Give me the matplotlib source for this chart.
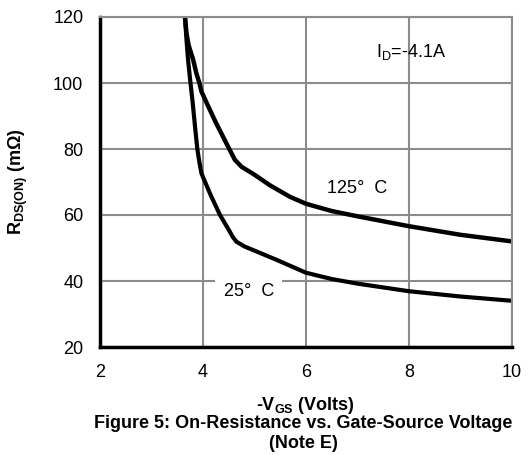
import matplotlib
matplotlib.use("Agg")
import matplotlib.pyplot as plt

plt.rcParams["font.family"] = ["Liberation Sans", "DejaVu Sans"]

# curves (-VGS in volts, RDS(on) in mOhm)
vgs_25 = [3.65, 3.68, 3.71, 3.75, 3.8, 3.85, 3.89, 3.93, 3.97, 4.15, 4.33, 4.5, 4.58, 4.65,
          4.8, 5.0, 5.43, 6.0, 6.5, 7.0, 8.0, 9.0, 10.0]
rds_25 = [120, 113, 107, 101, 94, 86, 80, 76, 72.6, 66, 60, 55.5, 53.3, 51.9,
          50.5, 49.2, 46.4, 42.5, 40.6, 39.2, 36.9, 35.3, 34]
vgs_125 = [3.65, 3.68, 3.72, 3.77, 3.81, 3.87, 3.93, 3.97, 4.1, 4.25, 4.38, 4.51, 4.62, 4.75,
           5.0, 5.3, 5.69, 6.0, 6.5, 7.0, 8.0, 9.0, 10.0]
rds_125 = [120, 115, 111.5, 109, 107, 103, 100, 97.4, 93, 88, 84, 80, 76.7, 74.6,
           72.2, 69, 65.5, 63.4, 61.2, 59.6, 56.6, 54, 52]

x_ticks = [2, 4, 6, 8, 10]
y_ticks = [20, 40, 60, 80, 100, 120]

fig = plt.figure(figsize=(5.28, 4.55), dpi=100)
ax = fig.add_axes([100 / 528, 1 - 347 / 455, 412 / 528, 330 / 455])

grid_c = "#8c8c8c"
ax.set_xlim(2, 10)
ax.set_ylim(20, 120)
ax.set_xticks(x_ticks)
ax.set_yticks(y_ticks)
ax.grid(True, color=grid_c, linewidth=1.5)
ax.set_axisbelow(True)
ax.tick_params(length=0, labelsize=13, pad=12)
ax.tick_params(axis="x", pad=12)
for s in ("top", "right"):
    ax.spines[s].set_color(grid_c)
    ax.spines[s].set_linewidth(1.5)
for s in ("left", "bottom"):
    ax.spines[s].set_color("black")
    ax.spines[s].set_linewidth(2.5)

ax.plot(vgs_125, rds_125, color="black", linewidth=3.2, solid_capstyle="butt",
        solid_joinstyle="round", clip_on=False)
ax.plot(vgs_25, rds_25, color="black", linewidth=3.0, solid_capstyle="butt",
        solid_joinstyle="round", clip_on=False)

ax.text(4.89, 36.8, "25°  C", fontsize=13, ha="center", va="center",
        bbox=dict(facecolor="white", edgecolor="none", pad=6))
ax.text(6.99, 68.1, "125°  C", fontsize=13, ha="center", va="center")
ax.text(8.04, 109.5, r"I$_\mathregular{D}$=-4.1A", fontsize=13, ha="center", va="center")

fig.text(18 / 528, 1 - 182 / 455, r"R$_\mathregular{DS(ON)}$ (mΩ)", rotation=90,
         fontsize=13, fontweight="bold", ha="center", va="center")
fig.text(305 / 528, 1 - 405 / 455, r"-V$_\mathregular{GS}$ (Volts)", fontsize=13,
         fontweight="bold", ha="center", va="center")
fig.text(303 / 528, 1 - 424 / 455, "Figure 5: On-Resistance vs. Gate-Source Voltage",
         fontsize=13, fontweight="bold", ha="center", va="center")
fig.text(303 / 528, 1 - 443 / 455, "(Note E)", fontsize=13, fontweight="bold",
         ha="center", va="center")

fig.savefig("out.png", dpi=100)
